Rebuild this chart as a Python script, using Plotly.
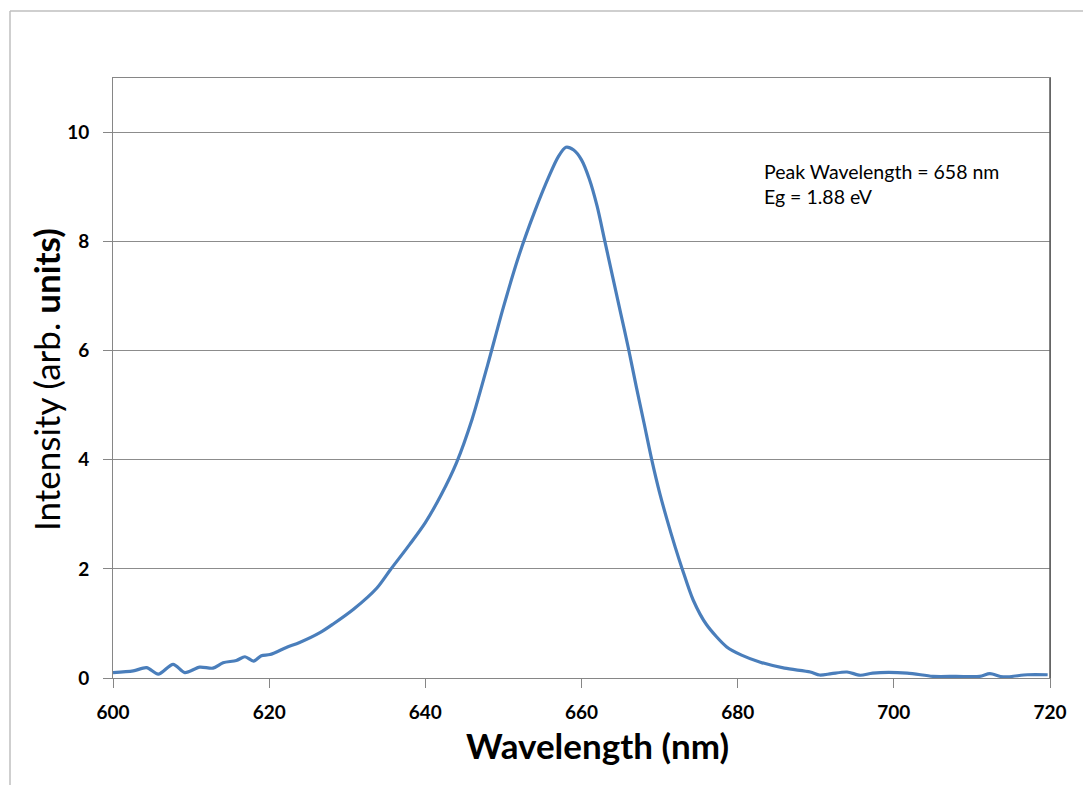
import plotly.graph_objects as go

wavelength = [600.0, 602.6, 604.3, 605.8, 607.7, 609.2, 611.1, 612.8, 614.1, 615.8, 616.9, 618.0,
              619.0, 620.1, 622.2, 623.9, 626.5, 628.2, 630.8, 633.8, 635.5, 638.0, 640.0, 642.0,
              644.0, 646.0, 648.0, 650.0, 652.0, 654.0, 656.0, 657.0, 658.0, 659.0, 660.0, 661.0,
              662.0, 663.0, 664.0, 665.0, 666.0, 667.0, 668.0, 669.0, 670.0, 671.0, 672.0, 672.9,
              674.3, 676.0, 678.6, 680.5, 682.9, 686.0, 689.3, 690.5, 692.0, 694.0, 695.7, 697.3,
              701.7, 705.0, 708.0, 711.0, 712.3, 714.0, 717.1, 719.7]
intensity = [0.10, 0.13, 0.19, 0.07, 0.25, 0.10, 0.20, 0.18, 0.28, 0.32, 0.39, 0.31,
             0.41, 0.43, 0.56, 0.65, 0.83, 0.99, 1.26, 1.65, 1.98, 2.45, 2.85, 3.35,
             3.95, 4.75, 5.75, 6.80, 7.75, 8.55, 9.25, 9.55, 9.73, 9.68, 9.50, 9.15,
             8.65, 8.00, 7.35, 6.70, 6.05, 5.35, 4.68, 4.00, 3.40, 2.88, 2.40, 2.00,
             1.43, 0.98, 0.57, 0.42, 0.29, 0.18, 0.11, 0.055, 0.08, 0.11, 0.05, 0.09,
             0.09, 0.03, 0.03, 0.03, 0.08, 0.02, 0.06, 0.06]

x_ticks = [600, 620, 640, 660, 680, 700, 720]
y_ticks = [0, 2, 4, 6, 8, 10]

W, H = 1083, 785
L, R, T, B = 113, 1050, 78, 678
pw, ph = R - L, B - T

def px(xpix):
    return (xpix - L) / pw

def py(ypix):
    return (B - ypix) / ph

FONT = "Lato"

fig = go.Figure()
fig.add_trace(go.Scatter(
    x=wavelength, y=intensity, mode="lines",
    line=dict(color="#4a7ebb", width=3.2, shape="spline", smoothing=0.8),
    hoverinfo="skip", showlegend=False,
))

fig.update_layout(
    width=W, height=H,
    margin=dict(l=L, r=W - R, t=T, b=H - B, pad=0),
    paper_bgcolor="white", plot_bgcolor="white",
    showlegend=False,
    font=dict(family=FONT, color="black"),
    xaxis=dict(
        range=[600, 720], tickvals=x_ticks, ticktext=[str(v) for v in x_ticks],
        showgrid=False, zeroline=False,
        showline=True, linecolor="#868686", linewidth=1, mirror=True,
        ticks="outside", ticklen=9, tickcolor="#868686", ticklabelstandoff=8,
        tickfont=dict(family=FONT, size=19, color="black", weight="bold"),
    ),
    yaxis=dict(
        range=[0, 11], tickvals=y_ticks, ticktext=[str(v) for v in y_ticks],
        showgrid=True, gridcolor="#8c8c8c", gridwidth=1, zeroline=False,
        showline=True, linecolor="#868686", linewidth=1, mirror=True,
        ticks="outside", ticklen=9, tickcolor="#868686", ticklabelstandoff=10,
        tickfont=dict(family=FONT, size=19, color="black", weight="bold"),
    ),
    shapes=[
        dict(type="line", xref="paper", yref="paper", x0=px(10), x1=px(1090), y0=py(11), y1=py(11),
             line=dict(color="#bfbfbf", width=1.5)),
        dict(type="line", xref="paper", yref="paper", x0=px(10), x1=px(10), y0=py(11), y1=py(800),
             line=dict(color="#bfbfbf", width=1.5)),
        dict(type="line", xref="paper", yref="paper", x0=1, x1=1, y0=0, y1=1,
             line=dict(color="#5a5a5a", width=1.5)),
    ],
    annotations=[
        dict(text="Wavelength (nm)", xref="paper", yref="paper", x=px(597), y=py(745),
             xanchor="center", yanchor="middle", showarrow=False,
             font=dict(family=FONT, size=35, color="black", weight="bold")),
        dict(text="Intensity (arb. <b>units)</b>", xref="paper", yref="paper", x=px(46), y=py(380),
             xanchor="center", yanchor="middle", textangle=-90, showarrow=False,
             font=dict(family=FONT, size=35, color="black")),
        dict(text="Peak Wavelength = 658 nm<br>Eg = 1.88 eV", xref="paper", yref="paper",
             x=px(762), y=py(184), xanchor="left", yanchor="middle", align="left", showarrow=False,
             font=dict(family=FONT, size=19.5, color="black")),
    ],
)

fig.write_html("out.html")
